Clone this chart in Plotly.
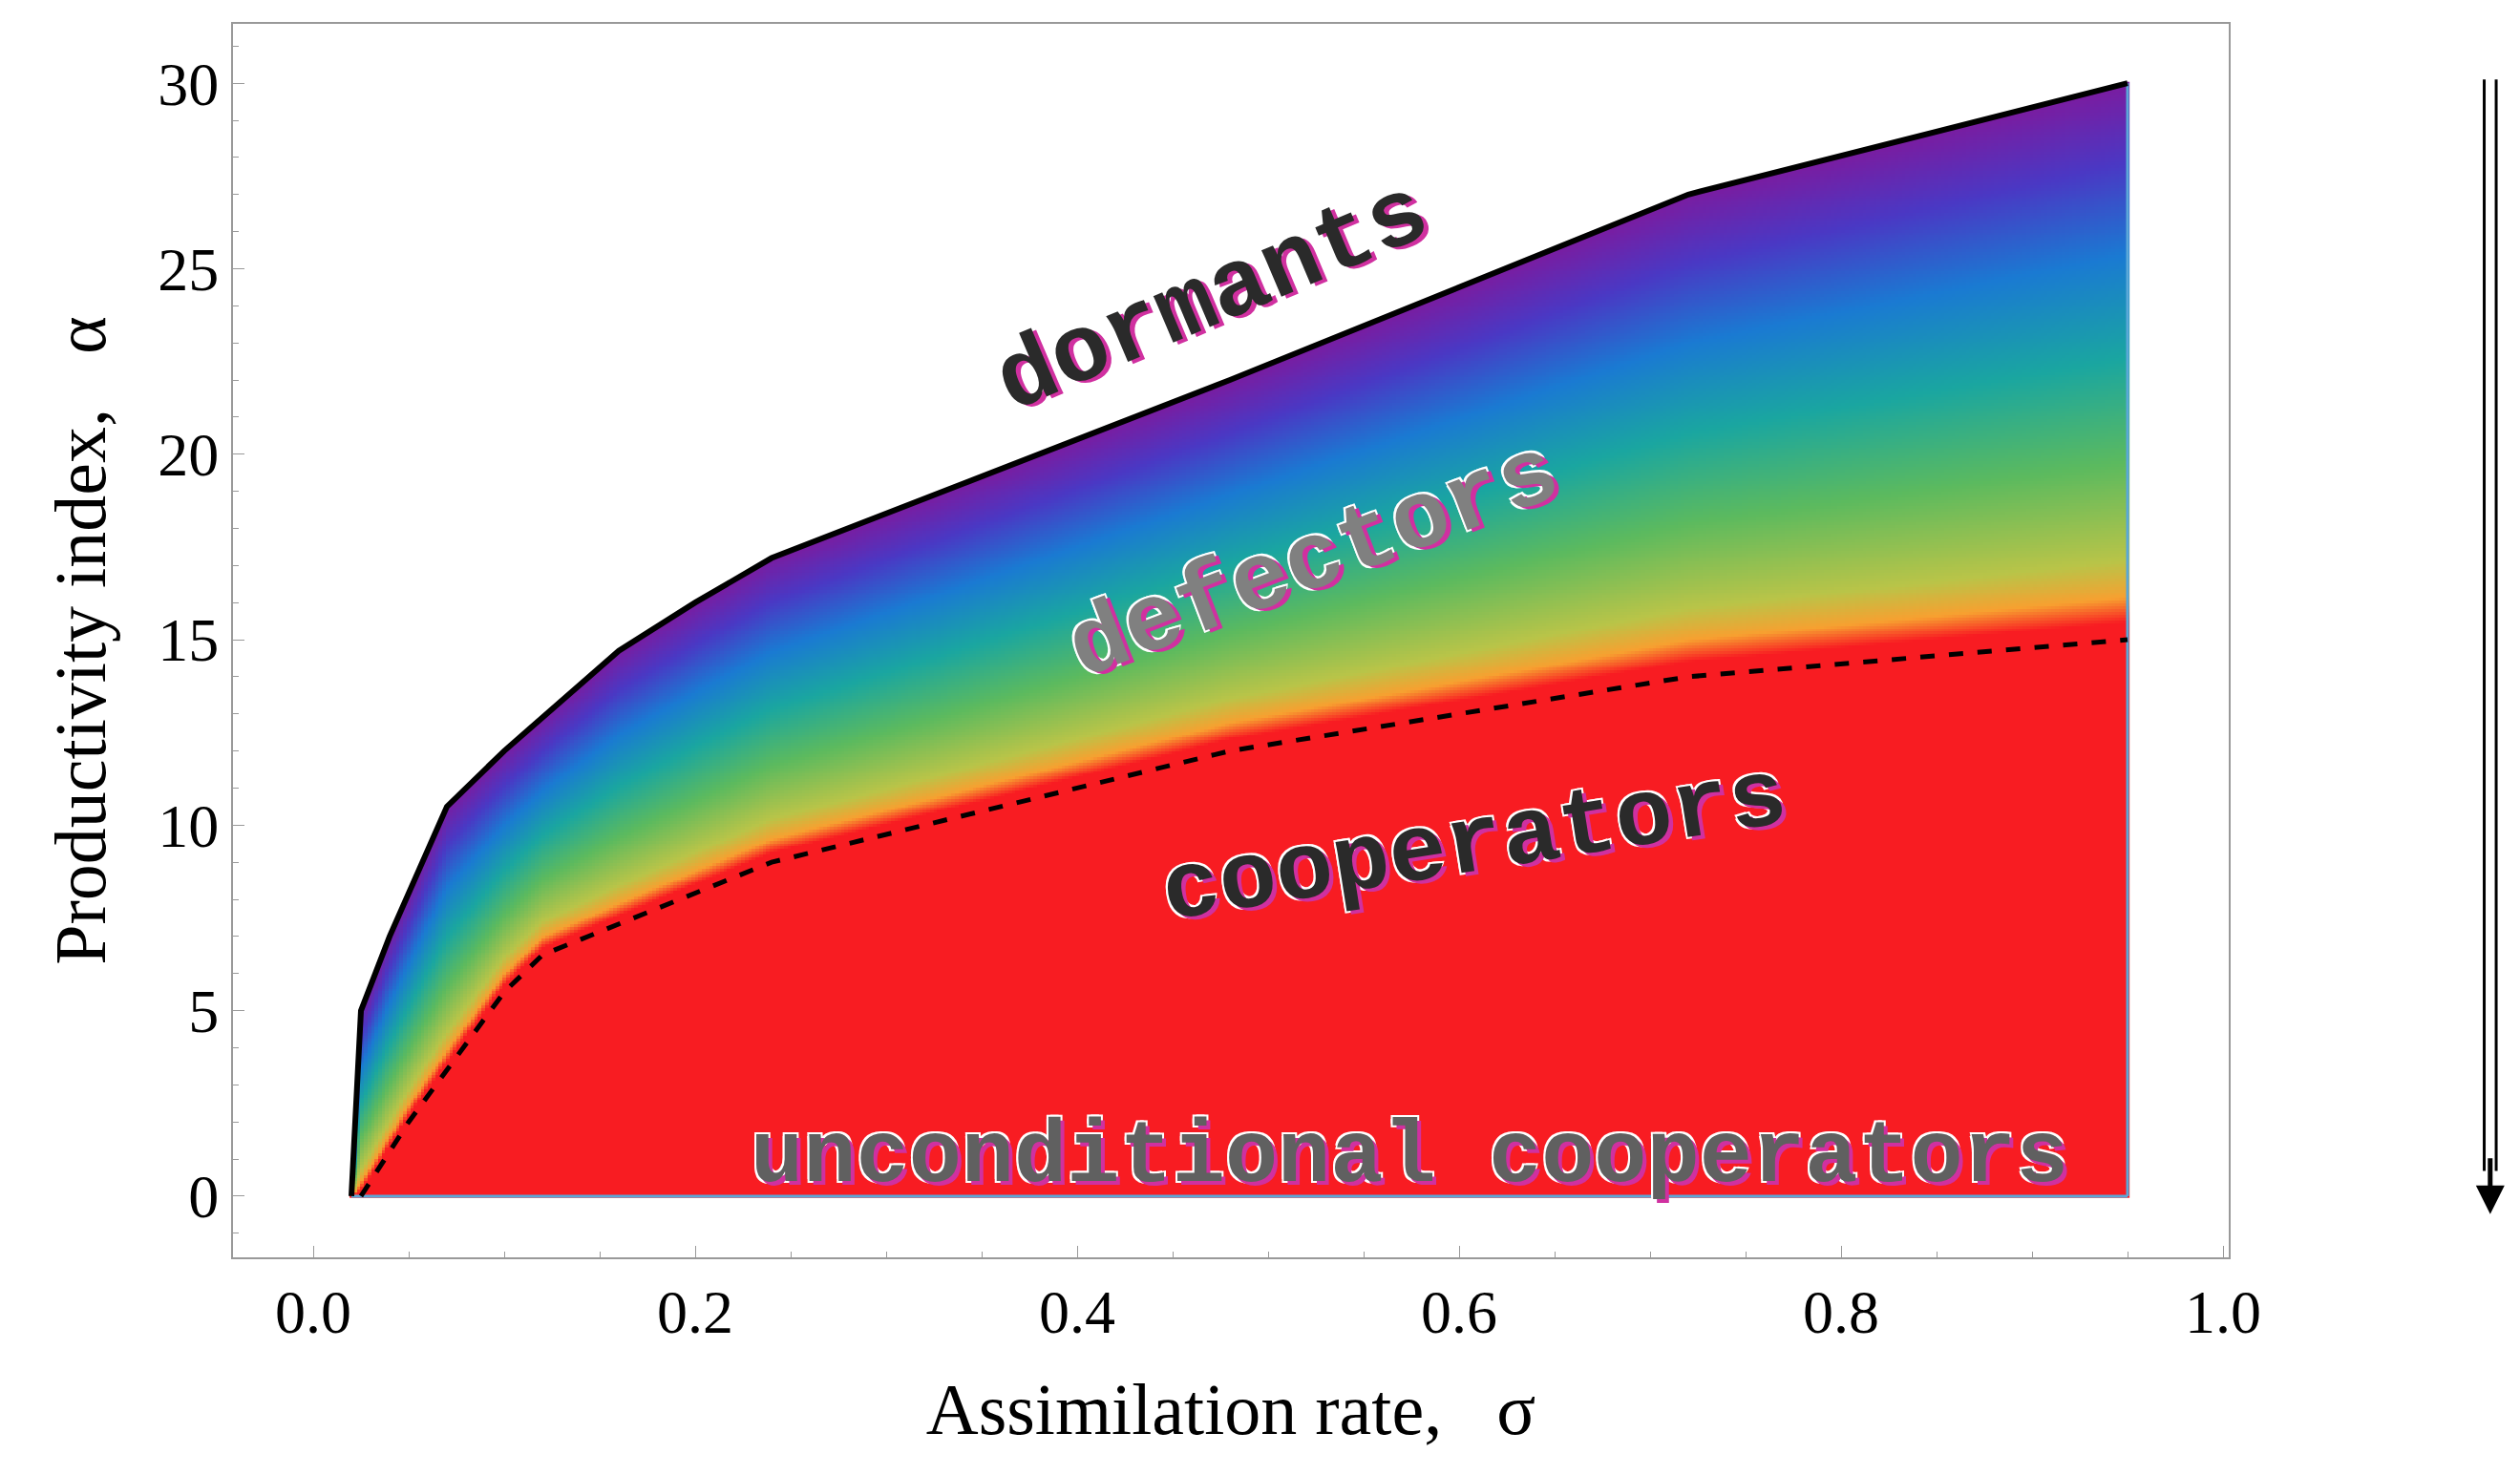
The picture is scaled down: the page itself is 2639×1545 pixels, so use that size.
import numpy as np
import plotly.graph_objects as go

# boundary between dormants and defectors (solid line)
upper_x = [0.02, 0.025, 0.04, 0.07, 0.10, 0.16, 0.20, 0.24, 0.48, 0.72, 0.95]
upper_y = [0.0, 5.0, 7.0, 10.5, 12.0, 14.7, 16.0, 17.2, 22.0, 27.0, 30.0]
# boundary between defectors and cooperators (dashed line)
lower_x = [0.025, 0.05, 0.10, 0.12, 0.24, 0.48, 0.72, 0.95]
lower_y = [0.0, 2.0, 5.5, 6.5, 9.0, 12.0, 14.0, 15.0]

x_ticks = [0.0, 0.2, 0.4, 0.6, 0.8, 1.0]
y_ticks = [0, 5, 10, 15, 20, 25, 30]

# colour field: red below the dashed line, rainbow between the two lines
gx = np.linspace(0.02, 0.95, 500)
gy = np.linspace(0, 30, 400)
up = np.interp(gx, upper_x, upper_y)
lo = np.interp(gx, lower_x, lower_y)
X, Y = np.meshgrid(gx, gy)
U = np.broadcast_to(up, X.shape)
L = np.broadcast_to(lo, X.shape)
t = (Y - L) / np.maximum(U - L, 1e-6)
z = np.where(Y < L, -0.1, t)
z = np.where(Y > U, np.nan, z)
z = np.where(X < 0.02, np.nan, z)

scale = [
    [0.0, "#f81c22"], [0.12, "#f81c22"], [0.16, "#f7a030"],
    [0.22, "#b9c448"], [0.38, "#5cba5e"], [0.55, "#1aa6a0"],
    [0.72, "#1a7ad2"], [0.87, "#4a38c4"], [1.0, "#7a1ca0"],
]

fig = go.Figure()
fig.add_trace(go.Heatmap(x=gx, y=gy, z=z, colorscale=scale, zmin=-0.1, zmax=1.0,
                         showscale=False, hoverinfo="skip"))
fig.add_trace(go.Scatter(x=[0.02, 0.95], y=[0, 0], mode="lines",
                         line=dict(color="#5aa8d8", width=3), showlegend=False))
fig.add_trace(go.Scatter(x=[0.95, 0.95], y=[0, 30], mode="lines",
                         line=dict(color="#5aa8d8", width=3), showlegend=False))
fig.add_trace(go.Scatter(x=upper_x, y=upper_y, mode="lines",
                         line=dict(color="black", width=6), showlegend=False))
fig.add_trace(go.Scatter(x=lower_x, y=lower_y, mode="lines",
                         line=dict(color="black", width=5, dash="dash"), showlegend=False))

mono = "Liberation Mono"
shadow = "4px 4px 0 #d030a0, -2px -2px 0 white, 2px -2px 0 white, -2px 2px 0 white"
labels = [
    ("dormants", 0.471, 24.2, -23, "#2a2a2a", 100),
    ("defectors", 0.524, 17.1, -21, "#808080", 100),
    ("cooperators", 0.608, 9.45, -9, "#2a2a2a", 100),
    ("unconditional cooperators", 0.574, 1.05, 0, "#606060", 92),
]
for txt, ax_, ay_, rot, col, sz in labels:
    fig.add_annotation(x=ax_, y=ay_, text="<b>" + txt + "</b>", showarrow=False,
                       textangle=rot,
                       font=dict(family=mono, size=sz, color=col, shadow=shadow))

# right side: arrow and text
fig.add_shape(type="line", xref="paper", yref="paper", x0=1.128, x1=1.128, y0=0.955, y1=0.07,
              line=dict(color="black", width=3))
fig.add_shape(type="line", xref="paper", yref="paper", x0=1.134, x1=1.134, y0=0.955, y1=0.07,
              line=dict(color="black", width=3))
fig.add_annotation(xref="paper", yref="paper", x=1.131, y=0.035, ax=0, ay=-60,
                   text="", showarrow=True,
                   arrowhead=2, arrowsize=1.2, arrowwidth=5, arrowcolor="black")
fig.add_annotation(xref="paper", yref="paper", x=1.18, y=0.5, text="Probability of reproduction",
                   textangle=-90, showarrow=False,
                   font=dict(family="Liberation Serif", size=74, color="black"))

fig.update_xaxes(range=[-0.042, 1.003], tickvals=x_ticks, ticktext=["0.0", "0.2", "0.4", "0.6", "0.8", "1.0"],
                 showgrid=False, zeroline=False, showline=True, mirror=True, linecolor="#999999",
                 linewidth=2, ticks="inside", ticklen=12, tickcolor="#999999",
                 minor=dict(ticks="inside", ticklen=6, dtick=0.05, tickcolor="#999999"),
                 title=dict(text="Assimilation rate,   σ", standoff=40,
                            font=dict(family="Liberation Serif", size=76)),
                 tickfont=dict(family="Liberation Serif", size=64))
fig.update_yaxes(range=[-1.65, 31.6], tickvals=y_ticks,
                 showgrid=False, zeroline=False, showline=True, mirror=True, linecolor="#999999",
                 linewidth=2, ticks="inside", ticklen=12, tickcolor="#999999",
                 minor=dict(ticks="inside", ticklen=6, dtick=1, tickcolor="#999999"),
                 title=dict(text="Productivity index,   α", standoff=30,
                            font=dict(family="Liberation Serif", size=76)),
                 tickfont=dict(family="Liberation Serif", size=64))
fig.update_layout(width=2639, height=1545, plot_bgcolor="white", paper_bgcolor="white",
                  margin=dict(l=236, r=313, t=17, b=236), font=dict(color="black"))
fig.write_html("out.html")
